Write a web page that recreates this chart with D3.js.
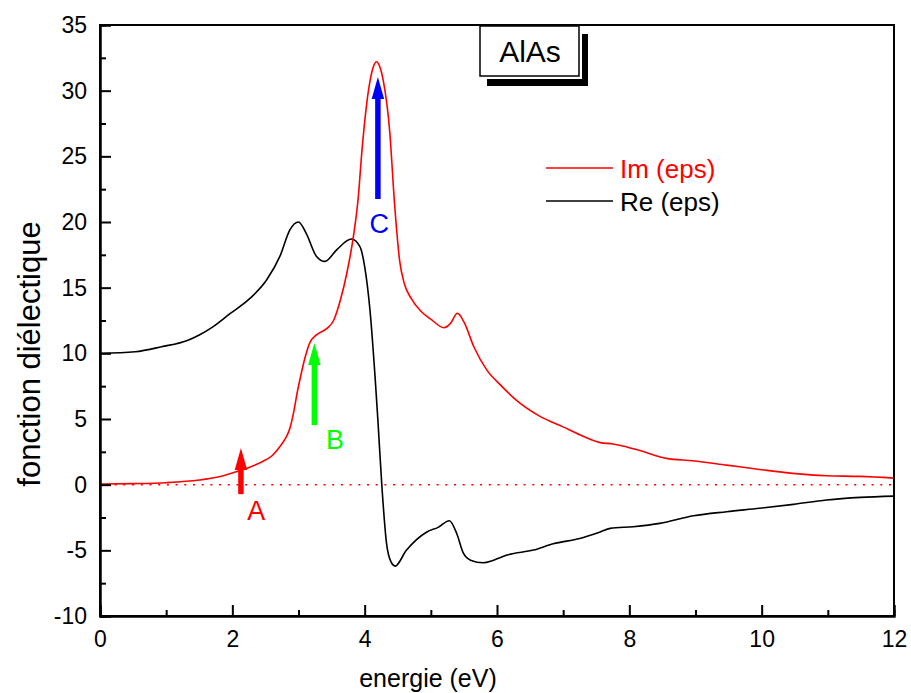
<!DOCTYPE html>
<html><head><meta charset="utf-8">
<script src="https://cdn.jsdelivr.net/npm/d3@7"></script>
<style>body{margin:0;background:#fff}svg{display:block;font-family:Arial,"Liberation Sans",sans-serif}</style>
</head><body><svg id="c" width="911" height="693"></svg>
<script>
// ---- data ----
const imEnergy = [0,0.5,1.0,1.5,1.8,2.07,2.27,2.45,2.6,2.72,2.8,2.87,2.93,2.98,3.03,3.1,3.17,3.27,3.43,3.53,3.63,3.73,3.83,3.9,3.96,4.06,4.13,4.18,4.23,4.28,4.38,4.45,4.53,4.6,4.7,4.85,5.0,5.2,5.3,5.4,5.5,5.65,5.85,6.05,6.3,6.65,7.0,7.25,7.56,7.75,7.9,8.16,8.56,8.96,9.47,9.97,10.47,10.98,11.49,12];
const imValues = [0.05,0.08,0.15,0.35,0.6,1.0,1.35,1.75,2.2,2.9,3.5,4.3,5.6,7.0,8.2,9.7,10.8,11.4,11.9,12.5,14.0,16.1,18.9,21.7,25.5,30.1,31.8,32.2,31.8,30.8,26.8,21.5,17.0,15.3,14.2,13.2,12.6,11.95,12.3,13.05,12.4,10.5,8.7,7.6,6.4,5.2,4.4,3.8,3.2,3.1,2.95,2.6,2.0,1.82,1.49,1.16,0.86,0.68,0.63,0.5];
const reEnergy = [0,0.53,0.93,1.33,1.5,1.7,1.96,2.27,2.52,2.72,2.87,3.0,3.12,3.27,3.4,3.58,3.8,3.93,4.0,4.08,4.16,4.2,4.26,4.33,4.4,4.46,4.63,4.94,5.11,5.28,5.39,5.49,5.6,5.79,5.95,6.15,6.55,6.85,7.25,7.56,7.71,8.06,8.46,8.97,9.47,9.97,10.48,10.98,11.49,12];
const reValues = [10.0,10.12,10.5,11.0,11.4,12.0,13.0,14.2,15.6,17.4,19.4,20.0,19.1,17.4,17.0,17.9,18.7,18.1,16.6,13.3,8.0,4.9,-0.1,-4.45,-5.9,-6.2,-5.0,-3.6,-3.25,-2.75,-3.7,-5.2,-5.75,-5.95,-5.75,-5.36,-4.98,-4.5,-4.1,-3.6,-3.33,-3.2,-2.95,-2.37,-2.06,-1.8,-1.5,-1.17,-0.97,-0.87];
const xTicks = [0,2,4,6,8,10,12];
const xMinorTicks = [1,3,5,7,9,11];
const yTicks = [-10,-5,0,5,10,15,20,25,30,35];
const yMinorTicks = [-7.5,-2.5,2.5,7.5,12.5,17.5,22.5,27.5,32.5];
const arrowLabels = ["A","B","C"];
const arrowX = [2.13,3.24,4.2];
const arrowFrom = [-0.72,4.54,21.75];
const arrowTo = [2.79,10.78,31.04];
const arrowColors = ["#ff0000","#00ff00","#0000ff"];
const labelX = [2.36,3.55,4.22];
const labelY = [-1.93,3.47,19.9];
const seriesNames = ["Im (eps)","Re (eps)"];
const seriesColors = ["#ff0000","#000000"];
const title = "AlAs";
const xTitle = "energie (eV)";
const yTitle = "fonction diélectique";

// ---- chart ----
const svg = d3.select("#c");
const L=100,R=894,T=25,B=616;
const x = d3.scaleLinear().domain([0,12]).range([L,R]);
const y = d3.scaleLinear().domain([-10,35]).range([B,T]);

// dotted zero line
svg.append("line").attr("x1",x(0)+6).attr("x2",R).attr("y1",y(0)).attr("y2",y(0))
  .attr("stroke","#ff0000").attr("stroke-width",1.5).attr("stroke-dasharray","2 6.7");

const line = d3.line().x(d=>x(d[0])).y(d=>y(d[1])).curve(d3.curveMonotoneX);
svg.append("path").datum(reEnergy.map((e,i)=>[e,reValues[i]])).attr("d",line)
  .attr("fill","none").attr("stroke",seriesColors[1]).attr("stroke-width",1.6);
svg.append("path").datum(imEnergy.map((e,i)=>[e,imValues[i]])).attr("d",line)
  .attr("fill","none").attr("stroke",seriesColors[0]).attr("stroke-width",1.6);

// frame
svg.append("rect").attr("x",L).attr("y",T).attr("width",R-L).attr("height",B-T)
  .attr("fill","none").attr("stroke","#000").attr("stroke-width",2);

const fmt = d=>String(d);
const gx = svg.append("g").attr("transform",`translate(0,${B})`)
  .call(d3.axisBottom(x).tickValues(xTicks).tickFormat(fmt).tickSize(-11).tickPadding(15));
const gxm = svg.append("g").attr("transform",`translate(0,${B})`)
  .call(d3.axisBottom(x).tickValues(xMinorTicks).tickFormat("").tickSize(-6));
const gy = svg.append("g").attr("transform",`translate(${L},0)`)
  .call(d3.axisLeft(y).tickValues(yTicks).tickFormat(fmt).tickSize(-11).tickPadding(13));
const gym = svg.append("g").attr("transform",`translate(${L},0)`)
  .call(d3.axisLeft(y).tickValues(yMinorTicks).tickFormat("").tickSize(-6));
[gx,gxm,gy,gym].forEach(g=>{
  g.select(".domain").attr("stroke","#000").attr("stroke-width",2);
  g.selectAll(".tick line").attr("stroke","#000").attr("stroke-width",2);
  g.selectAll(".tick text").attr("fill","#000").style("font-size","23px").style("font-family","Arial, 'Liberation Sans', sans-serif");
});

// arrows
arrowX.forEach((ax,i)=>{
  const cx = x(ax), yb = y(arrowFrom[i]), yt = y(arrowTo[i]);
  const headLen = 22, headW = 12.5, shaftW = 5.5;
  svg.append("rect").attr("x",cx-shaftW/2).attr("y",yt+headLen-1).attr("width",shaftW)
    .attr("height",yb-(yt+headLen-1)).attr("fill",arrowColors[i]);
  svg.append("path").attr("d",`M${cx},${yt} L${cx+headW/2},${yt+headLen} L${cx-headW/2},${yt+headLen} Z`)
    .attr("fill",arrowColors[i]);
  svg.append("text").attr("x",x(labelX[i])).attr("y",y(labelY[i])).attr("dy","0.36em")
    .attr("text-anchor","middle").attr("fill",arrowColors[i]).style("font-size","27px").text(arrowLabels[i]);
});

// title box with shadow
svg.append("rect").attr("x",582).attr("y",34).attr("width",6).attr("height",52).attr("fill","#000");
svg.append("rect").attr("x",487).attr("y",79).attr("width",101).attr("height",7).attr("fill","#000");
svg.append("rect").attr("x",480).attr("y",26).attr("width",99).attr("height",50)
  .attr("fill","#fff").attr("stroke","#000").attr("stroke-width",1.5);
svg.append("text").attr("x",530).attr("y",51).attr("dy","0.36em").attr("text-anchor","middle")
  .style("font-size","30px").text(title);

// legend
seriesNames.forEach((n,i)=>{
  const ly = 168 + i*33;
  svg.append("line").attr("x1",546).attr("x2",613).attr("y1",ly).attr("y2",ly)
    .attr("stroke",seriesColors[i]).attr("stroke-width",1.6);
  svg.append("text").attr("x",620).attr("y",ly+1).attr("dy","0.36em").attr("fill",seriesColors[i])
    .style("font-size","26px").text(n);
});

// axis titles
svg.append("text").attr("x",428).attr("y",678).attr("dy","0.36em").attr("text-anchor","middle")
  .style("font-size","25px").text(xTitle);
svg.append("text").attr("transform",`translate(29,354) rotate(-90)`).attr("dy","0.36em")
  .attr("text-anchor","middle").style("font-size","31px").text(yTitle);
</script></body></html>
